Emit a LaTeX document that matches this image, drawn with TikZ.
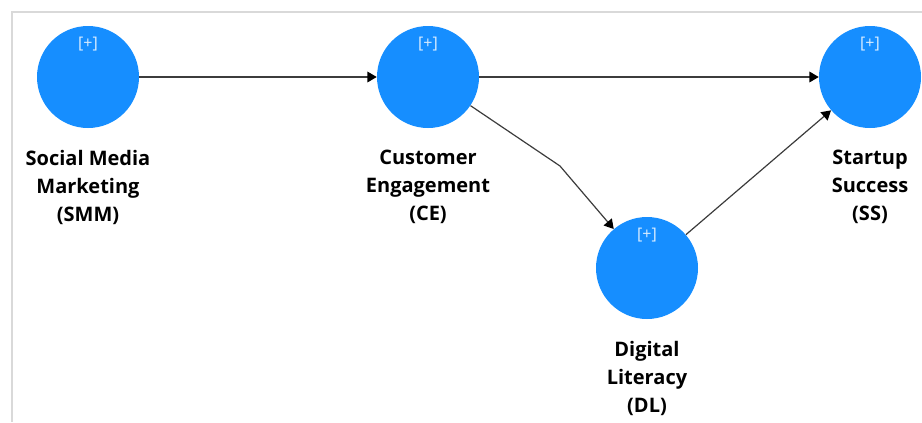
\documentclass[tikz,border=0pt]{standalone}
\usepackage{fontspec}
\setmainfont{Open Sans}
\usetikzlibrary{arrows.meta}
\usetikzlibrary{positioning}
\definecolor{lvblue}{RGB}{22,142,255}
\definecolor{framegray}{RGB}{217,217,217}
\definecolor{relgray}{RGB}{60,60,60}
% latent variable: circle, [+] mark and its name underneath
\newcommand{\lvnode}[3]{%
  \node(#1)[latent] at (#2) {};
  \node(#1plus)[plus, below=8pt of #1.north] {[+]};
  \node(#1name)[lvname, below=16pt of #1.south] {#3}}

\begin{document}
\begin{tikzpicture}[
        x=0.75pt, y=-0.75pt,
        every node/.style={font=\bfseries\fontsize{15}{21}\selectfont},
        latent/.style={circle, fill=lvblue, minimum size=76.5pt, inner sep=0pt},
        plus/.style={font=\fontsize{12}{13}\selectfont, text=white!85!lvblue, inner sep=0pt},
        lvname/.style={align=center, inner sep=0pt},
        relation/.style={draw=relgray, line width=0.9pt,
                         -{Triangle[length=7pt,width=8pt,color=black]}}
      ]
      \useasboundingbox (0,0) rectangle (922,422);
      \draw[framegray, line width=1.5pt] (922,12) -- (12,12) -- (12,422);

      \lvnode{smm}{88,77}{Social Media\\Marketing\\(SMM)};
      \lvnode{ce}{428,77}{Customer\\Engagement\\(CE)};
      \lvnode{ss}{870,77}{Startup\\Success\\(SS)};
      \lvnode{dl}{647,268}{Digital\\Literacy\\(DL)};
      \coordinate (kink) at (560,166);

      \draw[relation] (smm) -- (ce);
      \draw[relation] (ce) -- (ss);
      \draw[relation] (ce) -- (kink) -- (dl);
      \draw[relation] (dl) -- (ss);
    \end{tikzpicture}
\end{document}
